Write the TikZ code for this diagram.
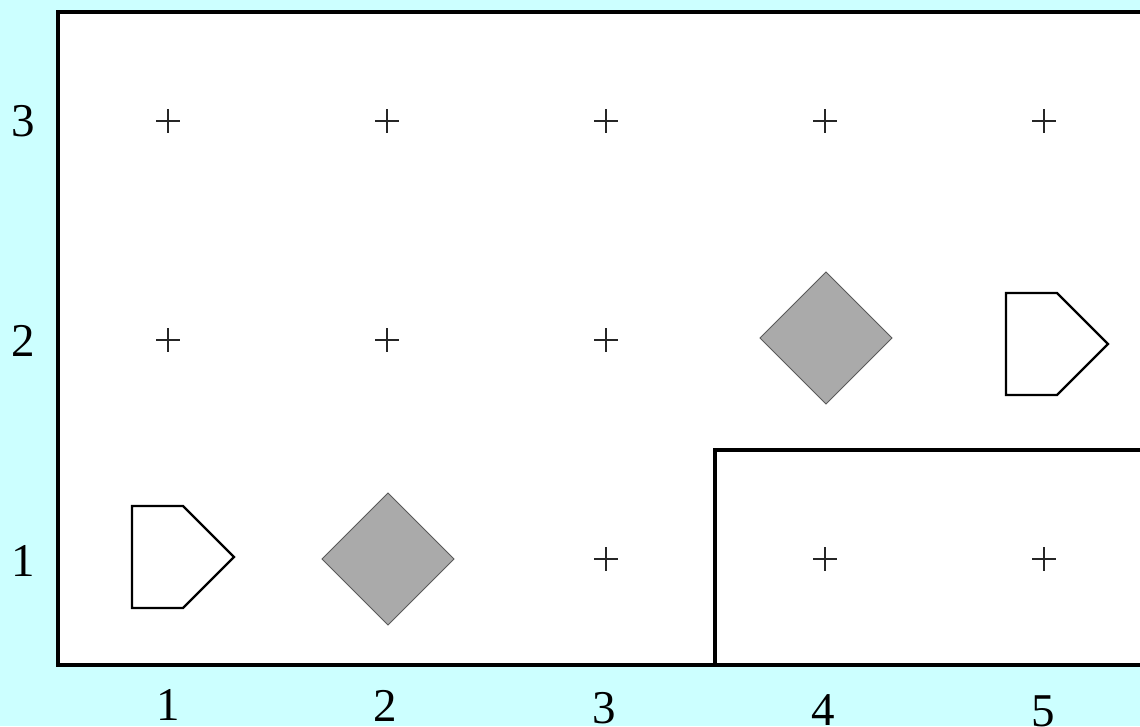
\documentclass[tikz,border=0pt]{standalone}
\usepackage{fontspec}
\setmainfont{Liberation Serif}
\definecolor{bgcyan}{HTML}{CCFFFF}
\definecolor{stonefill}{HTML}{AAAAAA}
\definecolor{stoneline}{HTML}{5A5A5A}

\begin{document}
\begin{tikzpicture}[x=1pt,y=-1pt,
  frame/.style={draw=black,line width=4pt},
  lbl/.style={font=\fontsize{47}{50}\selectfont,inner sep=0pt},
  cross/.pic={\draw[line width=1.3pt,black!85] (-12,0) -- (12,0) (0,-12) -- (0,12);},
  stone/.pic={\filldraw[fill=stonefill,draw=stoneline,line width=1pt]
                (-66,0) -- (0,-66) -- (66,0) -- (0,66) -- cycle;},
  tag/.pic={\draw[line width=2.2pt,fill=white,line join=miter]
              (-51,-51) -- (0,-51) -- (51,0) -- (0,51) -- (-51,51) -- cycle;}]
  % page and board
  \fill[bgcyan] (0,0) rectangle (1140,726);
  \useasboundingbox (0,0) rectangle (1140,726);
  \filldraw[frame,fill=white] (58,12) rectangle (1170,665);
  \draw[frame] (715,450) rectangle (1170,665);
  % grid points
  \foreach \c/\r in {1/3,2/3,3/3,4/3,5/3,1/2,2/2,3/2,3/1,4/1,5/1}
    \pic at ({168+219*(\c-1)},{121+219*(3-\r)}) {cross};
  % pieces
  \pic at (388,559) {stone};
  \pic at (826,338) {stone};
  \pic at (183,557) {tag};
  \pic at (1057,344) {tag};
  % axis labels
  \foreach \r/\yy in {3/121,2/341,1/561}
    \node[lbl] (row\r) at (23,\yy) {\r};
  \foreach \c/\xx/\yy in {1/168/705,2/385/706,3/604/708,4/823/710,5/1043/711}
    \node[lbl] (col\c) at (\xx,\yy) {\c};
\end{tikzpicture}
\end{document}
